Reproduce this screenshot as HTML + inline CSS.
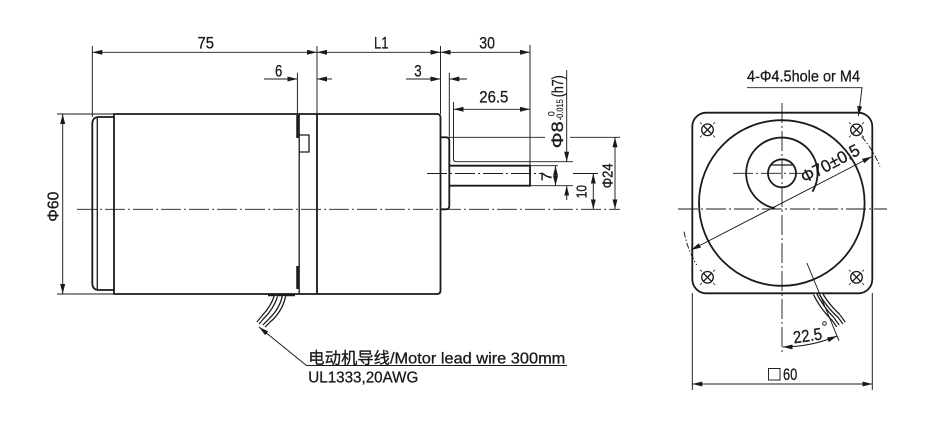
<!DOCTYPE html>
<html><head><meta charset="utf-8"><style>
html,body{margin:0;padding:0;background:#fff;}
svg{display:block;}
text{font-family:"Liberation Sans","Noto Sans CJK SC",sans-serif;fill:#1a1a1a;stroke:#1a1a1a;stroke-width:0.3;}
</style></head><body>
<svg width="934" height="431" viewBox="0 0 934 431" xmlns="http://www.w3.org/2000/svg">
<defs>
<marker id="a" viewBox="0 0 10 5" refX="10" refY="2.5" markerWidth="10" markerHeight="5" markerUnits="userSpaceOnUse" orient="auto-start-reverse"><path d="M0,0 L10,2.5 L0,5 z" fill="#1a1a1a"/></marker>
</defs>
<rect width="934" height="431" fill="#fff"/>

<!-- ============ SIDE VIEW ============ -->
<g fill="none" stroke="#1a1a1a" stroke-width="1.8">
  <path d="M114,117 H99 Q92.3,117 92.3,124 V283 Q92.3,290 99,290 H114"/>
  <path d="M114,114 H437 Q440.5,114 440.5,117.5 V290.5 Q440.5,294 437,294 H114 Z"/>
  <path d="M317,114 V294"/>
  <path d="M440.5,137.3 H446 Q449.3,137.3 449.3,140.6 V206 Q449.3,209.3 446,209.3 H440.5"/>
  <path d="M449.3,165.7 H530 V185.7 H449.3"/>
</g>
<g fill="none" stroke="#1a1a1a" stroke-width="1.3">
  <path d="M97.3,118 V289"/>
  <path d="M299.2,114 V294"/>
  <path d="M299.2,135 H309 V152 H299.2"/>
</g>
<g stroke="#1a1a1a" stroke-width="2.3" fill="none">
  <path d="M297.4,115 V138"/>
  <path d="M297.4,266 V289"/>
  <path d="M268,295 H295" stroke-width="2.6"/>
</g>
<!-- side wires -->
<g fill="none" stroke-linecap="butt">
  <path d="M276,296 Q272,308 263,317" stroke="#1a1a1a" stroke-width="4.6"/>
  <path d="M276,296 Q272,308 263,317" stroke="#fff" stroke-width="2"/>
  <path d="M284,296 Q281,310 270,320" stroke="#1a1a1a" stroke-width="4.6"/>
  <path d="M284,296 Q281,310 270,320" stroke="#fff" stroke-width="2"/>
  <path d="M263,317 L258,323" stroke="#1a1a1a" stroke-width="4.2"/>
  <path d="M263,317 L258,323" stroke="#fff" stroke-width="1.8"/>
  <path d="M270,320 L264,326" stroke="#1a1a1a" stroke-width="4.2"/>
  <path d="M270,320 L264,326" stroke="#fff" stroke-width="1.8"/>
</g>
<!-- side thin dims -->
<g fill="none" stroke="#1a1a1a" stroke-width="0.95">
  <path d="M92.3,46 V117"/>
  <path d="M317,46 V114"/>
  <path d="M440.5,46 V114"/>
  <path d="M530,45 V165.7"/>
  <path d="M297.4,72.7 V114"/>
  <path d="M449.3,72.7 V137.3"/>
  <path d="M453.5,102 V159 Q453.5,161.7 456.5,161.7 H573"/>
  <path d="M57,114 H114"/>
  <path d="M57,294 H114"/>
  <path d="M449.3,137.3 H545 M570,137.3 H620"/>
  <path d="M530,165.7 H558"/>
  <path d="M573,173.5 H598"/>
  <path d="M530,185.7 H573"/>
  <line x1="92.3" y1="52.3" x2="317" y2="52.3" marker-start="url(#a)" marker-end="url(#a)"/>
  <line x1="317" y1="52.3" x2="440.5" y2="52.3" marker-start="url(#a)" marker-end="url(#a)"/>
  <line x1="440.5" y1="52.3" x2="530" y2="52.3" marker-start="url(#a)" marker-end="url(#a)"/>
  <line x1="264" y1="79" x2="297.4" y2="79" marker-end="url(#a)"/>
  <line x1="332" y1="79" x2="317" y2="79" marker-end="url(#a)"/>
  <line x1="406" y1="79" x2="440.5" y2="79" marker-end="url(#a)"/>
  <line x1="467" y1="79" x2="449.3" y2="79" marker-end="url(#a)"/>
  <line x1="453.5" y1="109.3" x2="530" y2="109.3" marker-start="url(#a)" marker-end="url(#a)"/>
  <line x1="62.7" y1="114" x2="62.7" y2="294" marker-start="url(#a)" marker-end="url(#a)"/>
  <line x1="566.7" y1="70" x2="566.7" y2="161.7" marker-end="url(#a)"/>
  <line x1="566.7" y1="200" x2="566.7" y2="185.7" marker-end="url(#a)"/>
  <line x1="555.5" y1="165.7" x2="555.5" y2="185.7" marker-start="url(#a)" marker-end="url(#a)"/>
  <line x1="593.3" y1="173.5" x2="593.3" y2="209.3" marker-start="url(#a)" marker-end="url(#a)"/>
  <line x1="615" y1="137.3" x2="615" y2="209.3" marker-start="url(#a)" marker-end="url(#a)"/>
  <polyline points="567,365.5 306.5,365.5 259,327" marker-end="url(#a)"/>
</g>
<!-- side center lines -->
<g fill="none" stroke="#1a1a1a" stroke-width="0.9" stroke-dasharray="20 3 2 3">
  <path d="M77,209.3 H620"/>
  <path d="M427,173.5 H542"/>
</g>
<!-- side texts -->
<text x="197.5" y="48.3" font-size="17" textLength="16.5" lengthAdjust="spacingAndGlyphs">75</text>
<text x="374" y="48.3" font-size="17" textLength="14.5" lengthAdjust="spacingAndGlyphs">L1</text>
<text x="479.3" y="48.3" font-size="17" textLength="15.7" lengthAdjust="spacingAndGlyphs">30</text>
<text x="275" y="76.3" font-size="17" textLength="7.3" lengthAdjust="spacingAndGlyphs">6</text>
<text x="414.3" y="76.3" font-size="17" textLength="7.4" lengthAdjust="spacingAndGlyphs">3</text>
<text x="479.3" y="102.7" font-size="17" textLength="29" lengthAdjust="spacingAndGlyphs">26.5</text>
<text transform="translate(58.3,221.7) rotate(-90)" font-size="16" textLength="30" lengthAdjust="spacingAndGlyphs">Φ60</text>
<text transform="translate(551.7,181) rotate(-90)" font-size="15" textLength="9" lengthAdjust="spacingAndGlyphs">7</text>
<text transform="translate(586.7,198.3) rotate(-90)" font-size="15" textLength="13.3" lengthAdjust="spacingAndGlyphs">10</text>
<text transform="translate(612.7,188.3) rotate(-90)" font-size="15" textLength="25" lengthAdjust="spacingAndGlyphs">Φ24</text>
<g transform="translate(563,148.3) rotate(-90)">
  <text x="0" y="0" font-size="17" textLength="27" lengthAdjust="spacingAndGlyphs">Φ8</text>
  <text x="32" y="-8.5" font-size="9" style="stroke-width:0.15">0</text>
  <text x="28" y="0" font-size="9" textLength="21" lengthAdjust="spacingAndGlyphs" style="stroke-width:0.15">-0.015</text>
  <text x="51" y="0" font-size="16" textLength="22" lengthAdjust="spacingAndGlyphs">(h7)</text>
</g>
<text x="308.3" y="363.3" font-size="16" textLength="257" lengthAdjust="spacingAndGlyphs">电动机导线/Motor lead wire 300mm</text>
<text x="308.3" y="382.7" font-size="15.5" textLength="110" lengthAdjust="spacingAndGlyphs">UL1333,20AWG</text>

<!-- ============ FRONT VIEW ============ -->
<g fill="none" stroke="#1a1a1a" stroke-width="1.8">
  <rect x="692.3" y="112.7" width="180" height="180.6" rx="14" ry="14"/>
  <circle cx="781.8" cy="203" r="82.8"/>
  <path d="M775,208.3 A35.7,35.7 0 1 1 812.4,191.7"/>
  <circle cx="782" cy="173.3" r="14"/>
  <path d="M770.8,165 H793.2" stroke-width="1.3"/>
</g>
<g fill="none" stroke="#1a1a1a" stroke-width="1.3">
  <circle cx="707.5" cy="129.8" r="5.8"/>
  <circle cx="856.5" cy="129.8" r="5.8"/>
  <circle cx="707.5" cy="277.3" r="5.8"/>
  <circle cx="856.5" cy="277.3" r="5.8"/>
  <path d="M703.4,125.7 L711.6,133.9 M711.6,125.7 L703.4,133.9"/>
  <path d="M852.4,125.7 L860.6,133.9 M860.6,125.7 L852.4,133.9"/>
  <path d="M703.4,273.2 L711.6,281.4 M711.6,273.2 L703.4,281.4"/>
  <path d="M852.4,273.2 L860.6,281.4 M860.6,273.2 L852.4,281.4"/>
</g>
<g fill="none" stroke="#1a1a1a" stroke-width="0.8">
  <path d="M701.8,124.1 l-1.8,-1.8 M713.2,124.1 l1.8,-1.8 M701.8,135.5 l-1.8,1.8 M713.2,135.5 l1.8,1.8"/>
  <path d="M850.8,124.1 l-1.8,-1.8 M862.2,124.1 l1.8,-1.8 M850.8,135.5 l-1.8,1.8 M862.2,135.5 l1.8,1.8"/>
  <path d="M701.8,271.6 l-1.8,-1.8 M713.2,271.6 l1.8,-1.8 M701.8,283 l-1.8,1.8 M713.2,283 l1.8,1.8"/>
  <path d="M850.8,271.6 l-1.8,-1.8 M862.2,271.6 l1.8,-1.8 M850.8,283 l-1.8,1.8 M862.2,283 l1.8,1.8"/>
</g>
<!-- front center lines -->
<g fill="none" stroke="#1a1a1a" stroke-width="0.9" stroke-dasharray="20 3 2 3">
  <path d="M678,209 H887"/>
  <path d="M782,103 V352"/>
  <path d="M733,173.3 H803"/>
</g>
<!-- front wires -->
<g fill="none">
  <path d="M815,294 Q822,308 833,319" stroke="#1a1a1a" stroke-width="4.6"/>
  <path d="M815,294 Q822,308 833,319" stroke="#fff" stroke-width="2"/>
  <path d="M821,294 Q828,306 839,316" stroke="#1a1a1a" stroke-width="4.6"/>
  <path d="M821,294 Q828,306 839,316" stroke="#fff" stroke-width="2"/>
  <path d="M833,319 L838,326" stroke="#1a1a1a" stroke-width="4.2"/>
  <path d="M833,319 L838,326" stroke="#fff" stroke-width="1.8"/>
  <path d="M839,316 L844,323" stroke="#1a1a1a" stroke-width="4.2"/>
  <path d="M839,316 L844,323" stroke="#fff" stroke-width="1.8"/>
</g>
<!-- front thin dims -->
<g fill="none" stroke="#1a1a1a" stroke-width="0.95">
  <path d="M692.3,293 V390"/>
  <path d="M872.3,293 V390"/>
  <line x1="692.3" y1="384" x2="872.3" y2="384" marker-start="url(#a)" marker-end="url(#a)"/>
  <line x1="691" y1="250" x2="872" y2="156.5" marker-start="url(#a)" marker-end="url(#a)"/>
  <polyline points="747,87.7 862,87.7 858.5,116" marker-end="url(#a)"/>
  <path d="M806.9,263 L839,340.7"/>
  <path d="M782.7,347 A144,144 0 0 0 837.1,336" marker-start="url(#a)" marker-end="url(#a)"/>
  <path d="M861.7,136.7 A104,104 0 0 1 880,166.7" stroke-dasharray="6 2 1.5 2"/>
  <path d="M684,231.7 A104,104 0 0 0 696.7,265" stroke-dasharray="6 2 1.5 2"/>
  <rect x="768.5" y="368.5" width="11.5" height="11.5"/>
  <circle cx="824.5" cy="323.5" r="1.8"/>
</g>
<text x="747" y="81.7" font-size="16" textLength="113" lengthAdjust="spacingAndGlyphs">4-Φ4.5hole or M4</text>
<text transform="translate(804.5,183.5) rotate(-27.6)" font-size="17" textLength="64" lengthAdjust="spacingAndGlyphs">Φ70±0.5</text>
<text x="783" y="380" font-size="17" textLength="14.3" lengthAdjust="spacingAndGlyphs">60</text>
<text x="793" y="341.5" font-size="17" textLength="29" lengthAdjust="spacingAndGlyphs" transform="rotate(-8,807,335)">22.5</text>
</svg>
</body></html>
